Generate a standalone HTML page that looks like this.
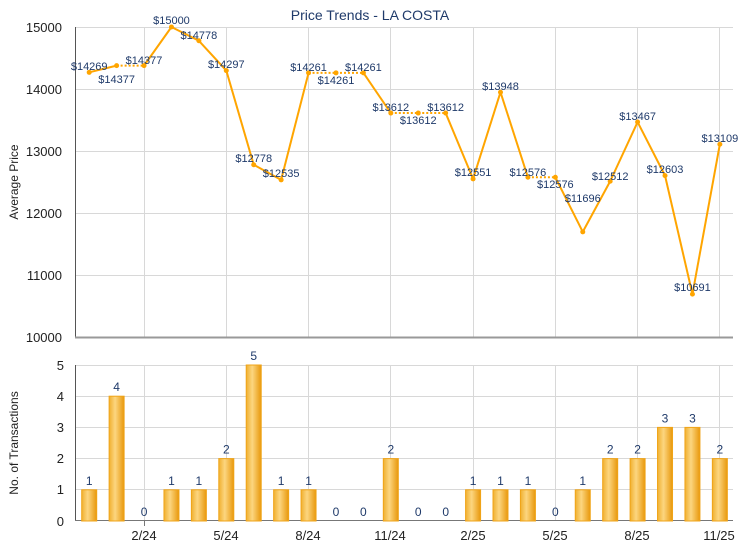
<!DOCTYPE html>
<html><head><meta charset="utf-8"><style>
body{margin:0;background:#fff;}
svg{display:block;font-family:"Liberation Sans",Arial,sans-serif;}
</style></head><body>
<svg width="740" height="550" xmlns="http://www.w3.org/2000/svg">
<defs>
<linearGradient id="bg" x1="0" x2="1" y1="0" y2="0">
<stop offset="0" stop-color="#f0b030"/><stop offset="0.4" stop-color="#fcd680"/><stop offset="1" stop-color="#e8980c"/>
</linearGradient>
</defs>
<text x="370" y="20" text-anchor="middle" font-size="14" fill="#1f3a6a">Price Trends - LA COSTA</text>
<g id="grid" stroke="#d8d8d8" stroke-width="1">
<line x1="75" x2="733" y1="27.5" y2="27.5"/><line x1="75" x2="733" y1="89.5" y2="89.5"/><line x1="75" x2="733" y1="151.5" y2="151.5"/><line x1="75" x2="733" y1="213.5" y2="213.5"/><line x1="75" x2="733" y1="275.5" y2="275.5"/>
<line x1="75" x2="733" y1="365.5" y2="365.5"/><line x1="75" x2="733" y1="396.5" y2="396.5"/><line x1="75" x2="733" y1="427.5" y2="427.5"/><line x1="75" x2="733" y1="458.5" y2="458.5"/><line x1="75" x2="733" y1="489.5" y2="489.5"/>
<line x1="144.5" x2="144.5" y1="27" y2="337"/><line x1="226.5" x2="226.5" y1="27" y2="337"/><line x1="308.5" x2="308.5" y1="27" y2="337"/><line x1="390.5" x2="390.5" y1="27" y2="337"/><line x1="473.5" x2="473.5" y1="27" y2="337"/><line x1="555.5" x2="555.5" y1="27" y2="337"/><line x1="637.5" x2="637.5" y1="27" y2="337"/><line x1="719.5" x2="719.5" y1="27" y2="337"/>
<line x1="144.5" x2="144.5" y1="365" y2="521"/><line x1="226.5" x2="226.5" y1="365" y2="521"/><line x1="308.5" x2="308.5" y1="365" y2="521"/><line x1="390.5" x2="390.5" y1="365" y2="521"/><line x1="473.5" x2="473.5" y1="365" y2="521"/><line x1="555.5" x2="555.5" y1="365" y2="521"/><line x1="637.5" x2="637.5" y1="365" y2="521"/><line x1="719.5" x2="719.5" y1="365" y2="521"/>
</g>
<line x1="75.5" x2="75.5" y1="27" y2="337" stroke="#555"/>
<line x1="75" x2="733" y1="337.5" y2="337.5" stroke="#999" stroke-width="2"/>
<line x1="75.5" x2="75.5" y1="365" y2="521" stroke="#555"/>
<line x1="75" x2="733" y1="520.5" y2="520.5" stroke="#777"/>
<g font-size="13" fill="#222" text-anchor="end">
<text x="62" y="32">15000</text><text x="62" y="94">14000</text><text x="62" y="156">13000</text><text x="62" y="218">12000</text><text x="62" y="280">11000</text><text x="62" y="342">10000</text>
<text x="64" y="370">5</text><text x="64" y="401">4</text><text x="64" y="432">3</text><text x="64" y="463">2</text><text x="64" y="494">1</text><text x="64" y="526">0</text>
</g>
<text transform="translate(18,182) rotate(-90)" text-anchor="middle" font-size="12" fill="#222">Average Price</text>
<text transform="translate(18,443) rotate(-90)" text-anchor="middle" font-size="12" fill="#222">No. of Transactions</text>
<g font-size="13" fill="#222" text-anchor="middle">
<line x1="144.5" x2="144.5" y1="521" y2="526" stroke="#777"/><text x="144" y="540">2/24</text>
<text x="226" y="540">5/24</text><text x="308" y="540">8/24</text><text x="390" y="540">11/24</text><text x="473" y="540">2/25</text><text x="555" y="540">5/25</text><text x="637" y="540">8/25</text><text x="719" y="540">11/25</text>
</g>
<g id="bars"></g>
<g id="line"></g>
<g id="lbl" font-size="11" fill="#1f3a6a" text-anchor="middle"></g>
<script>
var P=[14269,14377,14377,15000,14778,14297,12778,12535,14261,14261,14261,13612,13612,13612,12551,13948,12576,12576,11696,12512,13467,12603,10691,13109];
var C=[1,4,0,1,1,2,5,1,1,0,0,2,0,0,1,1,1,0,1,2,2,3,3,2];
var LY=[66,79,60,20,35,64,158,173,67,80,67,107,120,107,172,86,172,184,198,176,116,169,287,138];
var ns="http://www.w3.org/2000/svg";
function X(i){return 89.2+i*27.42;}function Y(p){return 27+(15000-p)*0.062;}
function el(t,a,par,txt){var e=document.createElementNS(ns,t);for(var k in a)e.setAttribute(k,a[k]);if(txt!==undefined)e.textContent=txt;document.getElementById(par).appendChild(e);}
for(var i=0;i<24;i++){
 var x=X(i);
 if(C[i]>0){var h=C[i]*31.2;el("rect",{x:x-7.5,y:521-h,width:15,height:h,fill:"url(#bg)",stroke:"#f0a418","stroke-width":1},"bars");}
 el("text",{x:x,y:521-C[i]*31.2-5,"font-size":12,fill:"#1f3a6a","text-anchor":"middle"},"bars",C[i]);
 if(i<23){var d=(C[i+1]==0)?"2,2":"none";el("line",{x1:x,y1:Y(P[i]),x2:X(i+1),y2:Y(P[i+1]),stroke:"#ffa500","stroke-width":2,"stroke-dasharray":d},"line");}
 el("circle",{cx:x,cy:Y(P[i]),r:2.5,fill:"#ffa500"},"line");
 el("text",{x:x,y:LY[i]+4},"lbl","$"+P[i]);
}
</script>
</svg>
</body></html>
